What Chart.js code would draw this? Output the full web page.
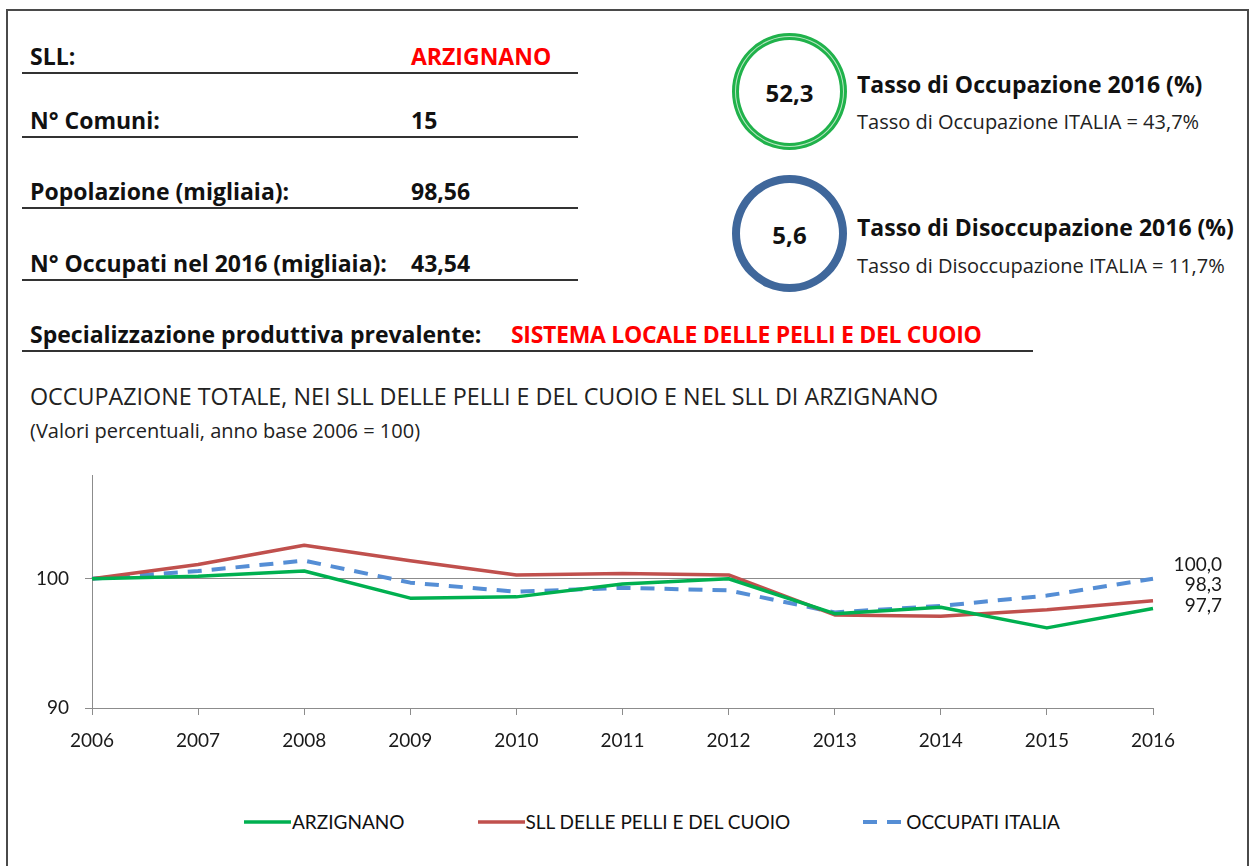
<!DOCTYPE html>
<html lang="it">
<head>
<meta charset="utf-8">
<script src="https://cdn.jsdelivr.net/npm/chart.js@4.4.1/dist/chart.umd.min.js"></script>
<style>
  body { margin: 0; width: 1250px; height: 866px; background: #fff; font-family: "Open Sans", sans-serif; color: #111; position: relative; overflow: hidden; }
  .frame { position: absolute; left: 6px; top: 9px; width: 1243px; height: 880px; border: 2px solid #4a4a4a; box-sizing: border-box; }
  .t { position: absolute; white-space: nowrap; line-height: 1.2; }
  .b { font-weight: 700; font-size: 23px; }
  .red { color: #ff0000; }
  .rule { position: absolute; left: 22px; height: 0; border-top: 2px solid #333; }
  .ring { position: absolute; width: 101px; height: 103px; border-radius: 50%; }
  .ring span { position: absolute; left: 0; right: 0; top: 50%; transform: translateY(-50%); text-align: center; font-weight: 700; font-size: 24px; }
  .green { border: 7px solid #20b24b; }
  .green::after { content: ''; position: absolute; inset: -4px; border-radius: 50%; border: 1px solid #b9e6c2; }
  .blue { border: 8px solid #3f679b; width: 99px; height: 101px; }
  .sub { font-size: 20px; color: #222; }
  #legend { position: absolute; left: 241px; top: 810px; display: flex; gap: 70px; font-family: Lato, sans-serif; font-size: 19px; }
  #legend div { display: flex; align-items: center; }
  #legend svg { margin-right: 1px; }
</style>
</head>
<body>
<div class="frame"></div>

<div class="t b" style="left:30px;top:43px">SLL:</div>
<div class="t b red" style="left:411px;top:43px">ARZIGNANO</div>
<div class="rule" style="top:72px;width:556px"></div>

<div class="t b" style="left:30px;top:107px">N° Comuni:</div>
<div class="t b" style="left:411px;top:107px">15</div>
<div class="rule" style="top:136px;width:556px"></div>

<div class="t b" style="left:30px;top:178px">Popolazione (migliaia):</div>
<div class="t b" style="left:411px;top:178px">98,56</div>
<div class="rule" style="top:207px;width:556px"></div>

<div class="t b" style="left:30px;top:250px">N° Occupati nel 2016 (migliaia):</div>
<div class="t b" style="left:411px;top:250px">43,54</div>
<div class="rule" style="top:279px;width:556px"></div>

<div class="t b" style="left:30px;top:321px">Specializzazione produttiva prevalente:</div>
<div class="t b red" style="left:511px;top:321px;letter-spacing:-0.3px">SISTEMA LOCALE DELLE PELLI E DEL CUOIO</div>
<div class="rule" style="top:350px;width:1011px"></div>

<div class="ring green" style="left:732px;top:33px"><span>52,3</span></div>
<div class="t b" style="left:857px;top:71px">Tasso di Occupazione 2016 (%)</div>
<div class="t sub" style="left:857px;top:110px">Tasso di Occupazione ITALIA = 43,7%</div>

<div class="ring blue" style="left:732px;top:175px"><span>5,6</span></div>
<div class="t b" style="left:857px;top:214px">Tasso di Disoccupazione 2016 (%)</div>
<div class="t sub" style="left:857px;top:254px">Tasso di Disoccupazione ITALIA = 11,7%</div>

<div class="t" style="left:30px;top:383px;font-size:23.3px;color:#222">OCCUPAZIONE TOTALE, NEI SLL DELLE PELLI E DEL CUOIO E NEL SLL DI ARZIGNANO</div>
<div class="t" style="left:30px;top:419px;font-size:20px;color:#222">(Valori percentuali, anno base 2006 = 100)</div>

<canvas id="occChart" width="1250" height="307" style="position:absolute;left:0;top:448px"></canvas>
<div id="legend"></div>

<script>
const years = ['2006', '2007', '2008', '2009', '2010', '2011', '2012', '2013', '2014', '2015', '2016'];
const arzignano = [100, 100.2, 100.6, 98.5, 98.6, 99.6, 100.0, 97.3, 97.8, 96.2, 97.7];
const pelliCuoio = [100, 101.1, 102.6, 101.4, 100.3, 100.4, 100.3, 97.2, 97.1, 97.6, 98.3];
const occupatiItalia = [100, 100.6, 101.4, 99.7, 99.0, 99.3, 99.1, 97.4, 97.9, 98.7, 100.0];
const yTicks = [90, 100];
const yMin = 90;
const yMax = 108;

const axisGray = '#8c8c8c';
const tickFont = { family: 'Lato', size: 19 };

document.addEventListener('DOMContentLoaded', () => {
  initChart();
});

function fmt(v) {
  return v.toFixed(1).replace('.', ',');
}

// etichette finali impilate a destra dell'ultimo anno
const endLabels = {
  id: 'endLabels',
  afterDatasetsDraw(chart) {
    const { ctx, chartArea, scales } = chart;
    const last = chart.data.datasets.map((d) => d.data[d.data.length - 1]).sort((a, b) => b - a);
    const y0 = scales.y.getPixelForValue(last[0]) - 14;
    ctx.save();
    ctx.font = '19px Lato';
    ctx.fillStyle = '#1a1a1a';
    ctx.textAlign = 'right';
    ctx.textBaseline = 'middle';
    last.forEach((v, i) => ctx.fillText(fmt(v), chartArea.right + 69, y0 + i * 20.5));
    ctx.restore();
  },
};

function initChart() {
  const canvas = document.getElementById('occChart');
  const datasets = [
    { label: 'ARZIGNANO', data: arzignano, borderColor: '#00b050', borderWidth: 3.5, borderDash: [] },
    { label: 'SLL DELLE PELLI E DEL CUOIO', data: pelliCuoio, borderColor: '#c0504d', borderWidth: 3.5, borderDash: [] },
    { label: 'OCCUPATI ITALIA', data: occupatiItalia, borderColor: '#558ed5', borderWidth: 4, borderDash: [14, 10] },
  ];

  new Chart(canvas, {
    type: 'line',
    data: {
      labels: years,
      datasets: datasets.map((d) => ({ ...d, fill: false, tension: 0, pointRadius: 0, borderJoinStyle: 'round' })),
    },
    options: {
      responsive: false,
      animation: false,
      layout: { padding: { top: 0, right: 97, left: 0, bottom: 0 } },
      plugins: { legend: { display: false }, tooltip: { enabled: false } },
      scales: {
        x: {
          grid: { drawOnChartArea: false, color: axisGray, tickLength: 7 },
          border: { color: axisGray },
          ticks: { font: tickFont, color: '#1a1a1a', padding: 14, maxRotation: 0, autoSkip: false },
          afterFit: (s) => { s.height = 47; },
        },
        y: {
          min: yMin,
          max: yMax,
          afterBuildTicks: (s) => { s.ticks = yTicks.map((v) => ({ value: v })); },
          grid: { color: axisGray, tickLength: 7 },
          border: { color: axisGray },
          ticks: { font: tickFont, color: '#1a1a1a', padding: 16 },
          afterFit: (s) => { s.width = 92; },
        },
      },
    },
    plugins: [endLabels],
  });

  buildLegend(datasets);
}

function buildLegend(datasets) {
  const box = document.getElementById('legend');
  datasets.forEach((d) => {
    const item = document.createElement('div');
    const dash = d.borderDash.length ? `stroke-dasharray="${d.borderDash.join(' ')}"` : '';
    const w = d.borderDash.length ? 45 : 50;
    item.innerHTML = `<svg width="${w}" height="8"><line x1="3" y1="4" x2="${w}" y2="4" stroke="${d.borderColor}" stroke-width="${d.borderWidth}" ${dash}/></svg><span>${d.label}</span>`;
    box.appendChild(item);
  });
}
</script>
</body>
</html>
